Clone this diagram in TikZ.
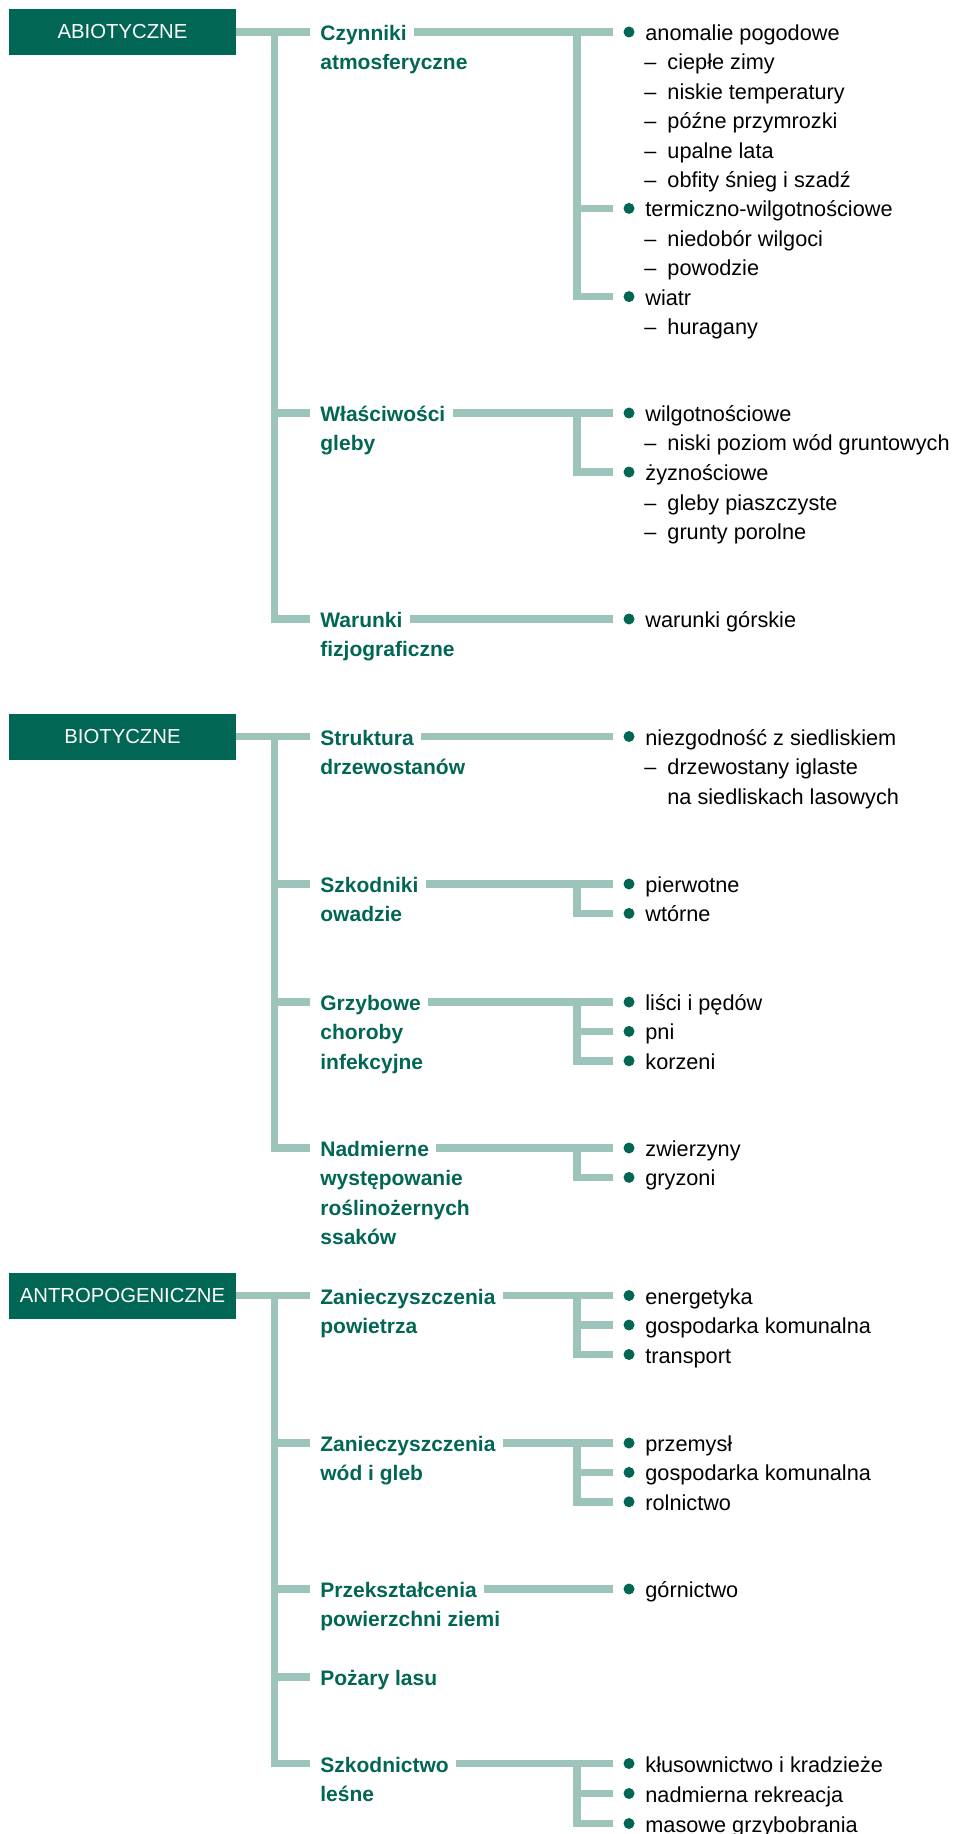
\documentclass[tikz,border=0pt]{standalone}
\usepackage{fontspec}
\setmainfont{Liberation Sans}
\usetikzlibrary{positioning}
\definecolor{forest}{RGB}{2,102,85}
\definecolor{sage}{RGB}{157,196,186}
\tikzset{
x=0.5pt, y=-0.5pt, % one unit is one pixel of the drawing
header/.style={fill=forest, text=white, minimum width=113.5pt, minimum height=23pt, inner sep=0pt, font=\fontsize{10.15pt}{12pt}\selectfont}, % the dark group boxes
cat/.style={anchor=west, inner sep=0pt, text=forest, text height=10.5pt, text depth=2pt, font=\fontsize{10.5pt}{12pt}\selectfont\bfseries}, % second level
item/.style={anchor=west, inner sep=0pt, text height=10.5pt, text depth=2pt, font=\fontsize{10.85pt}{13pt}\selectfont}, % third level
dot/.style={circle, fill=forest, minimum size=5.5pt, inner sep=0pt},
conn/.style={draw=sage, line width=3.75pt}, % the thick pale lines
}
\newcommand{\dash}{--\hspace{5.5pt}}

\begin{document}
\begin{tikzpicture}
    \useasboundingbox (0,0) rectangle (955,1834);

    % ABIOTYCZNE
    \node[header] (h1) at (122.5,32) {ABIOTYCZNE};
    \node[cat] (c1) at (320,32) {Czynniki};
    \node[cat] (c1a) at (320,61.4) {atmosferyczne};
    \node[cat] (c2) at (320,413) {Właściwości};
    \node[cat] (c2a) at (320,442.4) {gleby};
    \node[cat] (c3) at (320,619) {Warunki};
    \node[cat] (c3a) at (320,648.4) {fizjograficzne};

    \node[dot] (p1) at (629,32) {};
    \node[item] (t1) at (645,32) {anomalie pogodowe};
    \node[item] (d1) at (644,61.4) {\dash ciepłe zimy};
    \node[item] (d2) at (644,90.8) {\dash niskie temperatury};
    \node[item] (d3) at (644,120.2) {\dash późne przymrozki};
    \node[item] (d4) at (644,149.6) {\dash upalne lata};
    \node[item] (d5) at (644,179) {\dash obfity śnieg i szadź};
    \node[dot] (p2) at (629,208.4) {};
    \node[item] (t2) at (645,208.4) {termiczno-wilgotnościowe};
    \node[item] (d6) at (644,237.8) {\dash niedobór wilgoci};
    \node[item] (d7) at (644,267.2) {\dash powodzie};
    \node[dot] (p3) at (629,296.6) {};
    \node[item] (t3) at (645,296.6) {wiatr};
    \node[item] (d8) at (644,326) {\dash huragany};

    \node[dot] (p4) at (629,413) {};
    \node[item] (t4) at (645,413) {wilgotnościowe};
    \node[item] (d9) at (644,442.5) {\dash niski poziom wód gruntowych};
    \node[dot] (p5) at (629,472) {};
    \node[item] (t5) at (645,472) {żyznościowe};
    \node[item] (d10) at (644,501.5) {\dash gleby piaszczyste};
    \node[item] (d11) at (644,531) {\dash grunty porolne};

    \node[dot] (p6) at (629,619) {};
    \node[item] (t6) at (645,619) {warunki górskie};

    \draw[conn, shorten >=5pt] (h1.east) -- (c1.west);
    \draw[conn, shorten >=5pt] ([xshift=19pt]h1.east) |- (c3.west);
    \draw[conn, shorten >=5pt] ([xshift=19pt]h1.east |- c2.west) -- (c2.west);
    \draw[conn, shorten >=5.25pt] ([xshift=3.5pt]c1.east) -- (p1.west);
    \draw[conn, shorten >=5.25pt] ([xshift=-26pt]p1.center) |- (p3.west);
    \draw[conn, shorten >=5.25pt] ([xshift=-26pt]p2.center) -- (p2.west);
    \draw[conn, shorten >=5.25pt] ([xshift=3.5pt]c2.east) -- (p4.west);
    \draw[conn, shorten >=5.25pt] ([xshift=-26pt]p4.center) |- (p5.west);
    \draw[conn, shorten >=5.25pt] ([xshift=3.5pt]c3.east) -- (p6.west);

    % BIOTYCZNE
    \node[header] (h2) at (122.5,736.5) {BIOTYCZNE};
    \node[cat] (c4) at (320,736.5) {Struktura};
    \node[cat] (c4a) at (320,766) {drzewostanów};
    \node[cat] (c5) at (320,884) {Szkodniki};
    \node[cat] (c5a) at (320,913.4) {owadzie};
    \node[cat] (c6) at (320,1002) {Grzybowe};
    \node[cat] (c6a) at (320,1031.4) {choroby};
    \node[cat] (c6b) at (320,1060.8) {infekcyjne};
    \node[cat] (c7) at (320,1148) {Nadmierne};
    \node[cat] (c7a) at (320,1177.4) {występowanie};
    \node[cat] (c7b) at (320,1206.8) {roślinożernych};
    \node[cat] (c7c) at (320,1236.2) {ssaków};

    \node[dot] (p7) at (629,736.5) {};
    \node[item] (t7) at (645,736.5) {niezgodność z siedliskiem};
    \node[item] (d12) at (644,766) {\dash drzewostany iglaste};
    \node[item] (d12a) at (667,795.5) {na siedliskach lasowych};
    \node[dot] (p8) at (629,884) {};
    \node[item] (t8) at (645,884) {pierwotne};
    \node[dot] (p9) at (629,913.4) {};
    \node[item] (t9) at (645,913.4) {wtórne};
    \node[dot] (p10) at (629,1002) {};
    \node[item] (t10) at (645,1002) {liści i pędów};
    \node[dot] (p11) at (629,1031.4) {};
    \node[item] (t11) at (645,1031.4) {pni};
    \node[dot] (p12) at (629,1060.8) {};
    \node[item] (t12) at (645,1060.8) {korzeni};
    \node[dot] (p13) at (629,1148) {};
    \node[item] (t13) at (645,1148) {zwierzyny};
    \node[dot] (p14) at (629,1177.4) {};
    \node[item] (t14) at (645,1177.4) {gryzoni};

    \draw[conn, shorten >=5pt] (h2.east) -- (c4.west);
    \draw[conn, shorten >=5pt] ([xshift=19pt]h2.east) |- (c7.west);
    \draw[conn, shorten >=5pt] ([xshift=19pt]h2.east |- c5.west) -- (c5.west);
    \draw[conn, shorten >=5pt] ([xshift=19pt]h2.east |- c6.west) -- (c6.west);
    \draw[conn, shorten >=5.25pt] ([xshift=3.5pt]c4.east) -- (p7.west);
    \draw[conn, shorten >=5.25pt] ([xshift=3.5pt]c5.east) -- (p8.west);
    \draw[conn, shorten >=5.25pt] ([xshift=-26pt]p8.center) |- (p9.west);
    \draw[conn, shorten >=5.25pt] ([xshift=3.5pt]c6.east) -- (p10.west);
    \draw[conn, shorten >=5.25pt] ([xshift=-26pt]p10.center) |- (p12.west);
    \draw[conn, shorten >=5.25pt] ([xshift=-26pt]p11.center) -- (p11.west);
    \draw[conn, shorten >=5.25pt] ([xshift=3.5pt]c7.east) -- (p13.west);
    \draw[conn, shorten >=5.25pt] ([xshift=-26pt]p13.center) |- (p14.west);

    % ANTROPOGENICZNE
    \node[header] (h3) at (122.5,1295.5) {ANTROPOGENICZNE};
    \node[cat] (c8) at (320,1295.5) {Zanieczyszczenia};
    \node[cat] (c8a) at (320,1325) {powietrza};
    \node[cat] (c9) at (320,1443) {Zanieczyszczenia};
    \node[cat] (c9a) at (320,1472.4) {wód i gleb};
    \node[cat] (c10) at (320,1589) {Przekształcenia};
    \node[cat] (c10a) at (320,1618.4) {powierzchni ziemi};
    \node[cat] (c11) at (320,1677) {Pożary lasu};
    \node[cat] (c12) at (320,1763.5) {Szkodnictwo};
    \node[cat] (c12a) at (320,1793) {leśne};

    \node[dot] (p15) at (629,1295.5) {};
    \node[item] (t15) at (645,1295.5) {energetyka};
    \node[dot] (p16) at (629,1325) {};
    \node[item] (t16) at (645,1325) {gospodarka komunalna};
    \node[dot] (p17) at (629,1354.5) {};
    \node[item] (t17) at (645,1354.5) {transport};
    \node[dot] (p18) at (629,1443) {};
    \node[item] (t18) at (645,1443) {przemysł};
    \node[dot] (p19) at (629,1472.4) {};
    \node[item] (t19) at (645,1472.4) {gospodarka komunalna};
    \node[dot] (p20) at (629,1501.8) {};
    \node[item] (t20) at (645,1501.8) {rolnictwo};
    \node[dot] (p21) at (629,1589) {};
    \node[item] (t21) at (645,1589) {górnictwo};
    \node[dot] (p22) at (629,1763.5) {};
    \node[item] (t22) at (645,1763.5) {kłusownictwo i kradzieże};
    \node[dot] (p23) at (629,1793.5) {};
    \node[item] (t23) at (645,1793.5) {nadmierna rekreacja};
    \node[dot] (p24) at (629,1823.5) {};
    \node[item] (t24) at (645,1823.5) {masowe grzybobrania};

    \draw[conn, shorten >=5pt] (h3.east) -- (c8.west);
    \draw[conn, shorten >=5pt] ([xshift=19pt]h3.east) |- (c12.west);
    \draw[conn, shorten >=5pt] ([xshift=19pt]h3.east |- c9.west) -- (c9.west);
    \draw[conn, shorten >=5pt] ([xshift=19pt]h3.east |- c10.west) -- (c10.west);
    \draw[conn, shorten >=5pt] ([xshift=19pt]h3.east |- c11.west) -- (c11.west);
    \draw[conn, shorten >=5.25pt] ([xshift=3.5pt]c8.east) -- (p15.west);
    \draw[conn, shorten >=5.25pt] ([xshift=-26pt]p15.center) |- (p17.west);
    \draw[conn, shorten >=5.25pt] ([xshift=-26pt]p16.center) -- (p16.west);
    \draw[conn, shorten >=5.25pt] ([xshift=3.5pt]c9.east) -- (p18.west);
    \draw[conn, shorten >=5.25pt] ([xshift=-26pt]p18.center) |- (p20.west);
    \draw[conn, shorten >=5.25pt] ([xshift=-26pt]p19.center) -- (p19.west);
    \draw[conn, shorten >=5.25pt] ([xshift=3.5pt]c10.east) -- (p21.west);
    \draw[conn, shorten >=5.25pt] ([xshift=3.5pt]c12.east) -- (p22.west);
    \draw[conn, shorten >=5.25pt] ([xshift=-26pt]p22.center) |- (p24.west);
    \draw[conn, shorten >=5.25pt] ([xshift=-26pt]p23.center) -- (p23.west);
\end{tikzpicture}
\end{document}
